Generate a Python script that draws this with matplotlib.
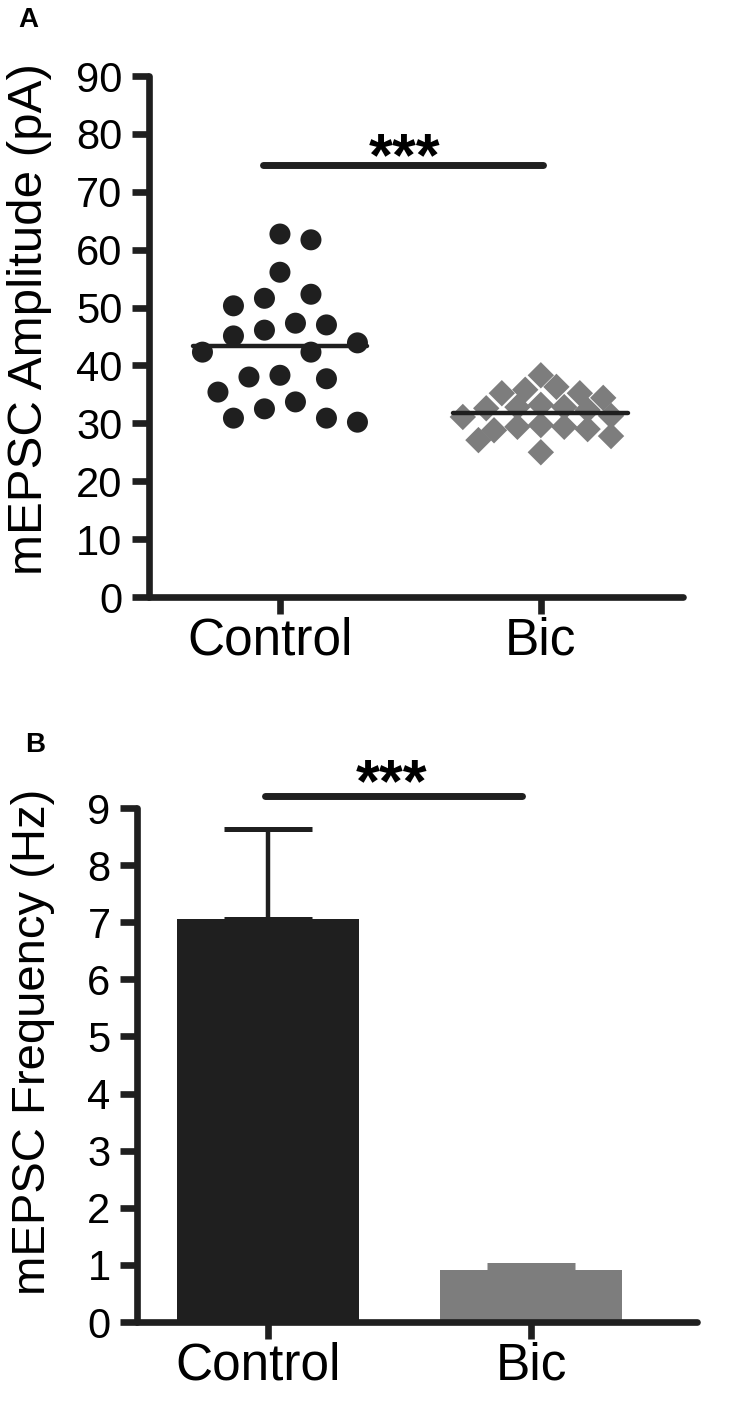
import numpy as np
import matplotlib
matplotlib.use("Agg")
import matplotlib.pyplot as plt
import matplotlib.transforms as mtransforms

plt.rcParams['font.family'] = ['Liberation Sans', 'DejaVu Sans']

# ---------------- data ----------------
categories = ["Control", "Bic"]
amp_control = [62.7, 61.7, 56.1, 51.6, 52.3, 50.3, 47.3, 46.1, 47.0, 45.1, 43.9,
               42.3, 42.3, 38.0, 37.7, 38.3, 35.4, 33.7, 30.9, 30.2, 30.9, 32.5]
amp_bic = [38.3, 36.3, 35.2, 35.8, 34.4, 35.2, 32.8, 32.6, 32.8, 33.2, 32.3,
           31.1, 31.3, 27.8, 29.0, 29.4, 29.4, 29.7, 28.8, 27.1, 25.0]
amp_mean = [43.4, 31.8]
amp_sig_y = 74.6
freq_mean = [7.05, 0.91]
freq_sem = [1.58, 0.08]
freq_sig_y = 9.21
amp_yticks = list(range(0, 100, 10))
freq_yticks = list(range(0, 10))

W, H = 735, 1404
fig = plt.figure(figsize=(W / 100, H / 100), dpi=100)

def px_axes(l, t, r, b):
    return fig.add_axes([l / W, 1 - b / H, (r - l) / W, (b - t) / H])

dark = '#1f1f1f'
grey = '#7d7d7d'
SP = 4.8  # spine width pt

def style(ax):
    for s in ['top', 'right']:
        ax.spines[s].set_visible(False)
    for s in ['left', 'bottom']:
        ax.spines[s].set_linewidth(SP)
        ax.spines[s].set_color(dark)
        ax.spines[s].set_capstyle('round')
    ax.tick_params(axis='both', direction='out', length=12, width=SP, color=dark,
                   labelsize=30, pad=7, labelcolor='black')
    ax.tick_params(axis='x', labelsize=37, pad=2)
    ax.set_facecolor('none')

def shift_first_xlabel(ax):
    lab = ax.get_xticklabels()[0]
    lab.set_transform(lab.get_transform() +
                      mtransforms.ScaledTranslation(-10 / 100, 0, fig.dpi_scale_trans))

# ---------------- Panel A ----------------
axA = px_axes(149, 76, 683, 597)
style(axA)
axA.set_ylim(0, 90)
axA.set_xlim(-0.502, 1.545)
axA.set_yticks(amp_yticks)
axA.set_xticks([0, 1])
axA.set_xticklabels(categories)
shift_first_xlabel(axA)
axA.set_ylabel("mEPSC Amplitude (pA)", fontsize=35.5, va='center')
axA.yaxis.set_label_coords((30 - 149) / 534, (597 - 319) / 521)

def beeswarm(ax, xc, vals, dmin, step):
    """return x positions (data units) for a simple grid beeswarm"""
    tr = ax.transData
    ypx = [tr.transform((xc, v))[1] for v in vals]
    x0px = tr.transform((xc, 0))[0]
    x1px = tr.transform((xc + 1, 0))[0]
    ppu = x1px - x0px
    order = np.argsort(-np.array(vals))
    placed = []
    offs = np.zeros(len(vals))
    for i in order:
        k = 0
        while True:
            cands = [0.0] if k == 0 else [k * step, -k * step]
            ok = None
            for c in cands:
                if all((c - ox) ** 2 + (ypx[i] - oy) ** 2 >= dmin ** 2 for ox, oy in placed):
                    ok = c
                    break
            if ok is not None:
                offs[i] = ok
                placed.append((ok, ypx[i]))
                break
            k += 1
    return xc + offs / ppu

xs_c = beeswarm(axA, 0, amp_control, 30, 15.5)
xs_b = beeswarm(axA, 1, amp_bic, 18, 7.8)
axA.scatter(xs_c, amp_control, s=(21 * 0.72) ** 2, color=dark, edgecolor='none',
            zorder=3, clip_on=False)
axA.scatter(xs_b, amp_bic, s=(22 * 0.72) ** 2 * 0.72, marker='D', color=grey,
            edgecolor='none', zorder=3, clip_on=False)
for i, m in enumerate(amp_mean):
    axA.plot([i - 0.335, i + 0.335], [m, m], color=dark, lw=3.2,
             solid_capstyle='round', zorder=4)
axA.plot([-0.065, 1.008], [amp_sig_y, amp_sig_y], color=dark, lw=5,
         solid_capstyle='round', clip_on=False)
axA.text(0.479, 70.6, "***", ha='center', va='bottom', fontsize=44,
         fontweight='bold')
fig.text(18 / W, 1 - 27 / H, "A", fontsize=20, fontweight='bold', ha='left',
         va='baseline')

# ---------------- Panel B ----------------
axB = px_axes(137, 808, 697, 1322)
style(axB)
axB.set_ylim(0, 9)
axB.set_xlim(-0.498, 1.63)
axB.set_yticks(freq_yticks)
axB.set_xticks([0, 1])
axB.set_xticklabels(categories)
shift_first_xlabel(axB)
axB.set_ylabel("mEPSC Frequency (Hz)", fontsize=34, va='center')
axB.yaxis.set_label_coords((33 - 137) / 560, (1322 - 1042) / 514)
colors = [dark, grey]
for i in range(2):
    axB.bar(i, freq_mean[i], width=0.69, color=colors[i], edgecolor='none', zorder=2)
    axB.errorbar(i, freq_mean[i], yerr=[[0], [freq_sem[i]]], fmt='none',
                 ecolor=colors[i], elinewidth=3.2, capsize=32, capthick=3.6, zorder=1)
axB.plot([-0.01, 0.966], [freq_sig_y, freq_sig_y], color=dark, lw=5,
         solid_capstyle='round', clip_on=False)
axB.text(0.47, 8.9, "***", ha='center', va='bottom', fontsize=44,
         fontweight='bold', clip_on=False)
fig.text(25 / W, 1 - 752 / H, "B", fontsize=20, fontweight='bold', ha='left',
         va='baseline')

fig.savefig("out.png", dpi=100)
